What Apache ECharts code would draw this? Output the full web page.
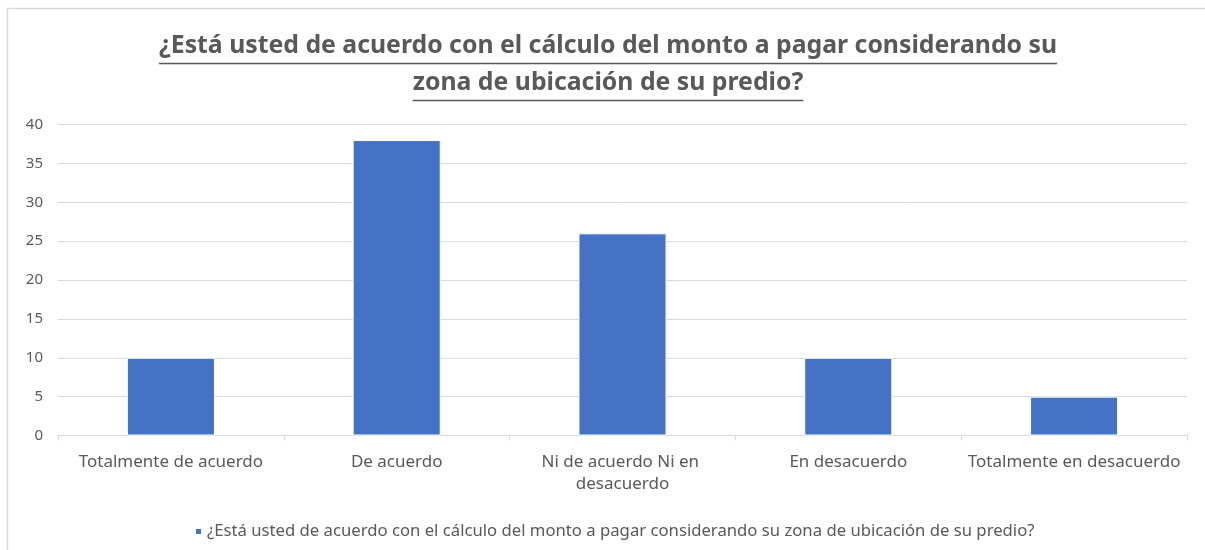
<!DOCTYPE html>
<html>
<head>
<meta charset="utf-8">
<script src="https://cdn.jsdelivr.net/npm/echarts@6/dist/echarts.min.js"></script>
<style>
  html, body { margin: 0; padding: 0; background: #fff; }
  #chart { width: 1205px; height: 550px; }
</style>
</head>
<body>
<div id="chart"></div>
<script>
const titleLines = [
  '¿Está usted de acuerdo con el cálculo del monto a pagar considerando su',
  'zona de ubicación de su predio?'
]
const seriesName = '¿Está usted de acuerdo con el cálculo del monto a pagar considerando su zona de ubicación de su predio?'
const categories = [
  'Totalmente de acuerdo',
  'De acuerdo',
  'Ni de acuerdo Ni en desacuerdo',
  'En desacuerdo',
  'Totalmente en desacuerdo'
]
const values = [10, 38, 26, 10, 5]
const yTicks = { min: 0, max: 40, interval: 5 }

const fontFamily = '"Noto Sans", sans-serif'
const grey = '#595959'
const titleSize = 24.8
const titleFont = 'bold ' + titleSize + 'px "Noto Sans"'
const titleTop = 27
const titleLineHeight = 37

const chart = echarts.init(document.getElementById('chart'))

// underline for the title, measured from the text itself
const measure = document.createElement('canvas').getContext('2d')
measure.font = titleFont
const underlines = titleLines.map((line, i) => {
  const w = measure.measureText(line).width
  const y = Math.round(titleTop + titleLineHeight * (i + 1) - 1) + 0.5
  return {
    type: 'line',
    silent: true,
    shape: { x1: 608 - w / 2, y1: y, x2: 608 + w / 2, y2: y },
    style: { stroke: grey, lineWidth: 1.5 }
  }
})

const option = {
  animation: false,
  title: {
    text: titleLines.join('\n'),
    left: 608,
    textAlign: 'center',
    top: titleTop,
    padding: 0,
    textStyle: {
      fontFamily,
      fontSize: titleSize,
      fontWeight: 'bold',
      color: grey,
      lineHeight: titleLineHeight
    }
  },
  graphic: [
    {
      type: 'polyline',
      silent: true,
      shape: { points: [[7.5, 550], [7.5, 8.5], [1205, 8.5]] },
      style: { stroke: '#d9d9d9', lineWidth: 1.5, fill: null }
    },
    ...underlines
  ],
  legend: {
    data: [seriesName],
    bottom: 10,
    left: 194,
    padding: 0,
    icon: 'rect',
    itemWidth: 7,
    itemHeight: 7,
    itemGap: 5,
    textStyle: { fontFamily, fontSize: 16.7, color: grey }
  },
  grid: {
    left: 58,
    right: 18,
    top: 124.5,
    bottom: 114.5,
    containLabel: false
  },
  xAxis: {
    type: 'category',
    data: categories,
    axisLine: { lineStyle: { color: '#d9d9d9', width: 1 } },
    axisTick: { show: true, length: 5, lineStyle: { color: '#d9d9d9' } },
    axisLabel: {
      margin: 16,
      fontFamily,
      fontSize: 17,
      lineHeight: 22,
      color: grey,
      width: 222,
      overflow: 'break',
      interval: 0
    }
  },
  yAxis: {
    type: 'value',
    min: yTicks.min,
    max: yTicks.max,
    interval: yTicks.interval,
    axisLine: { show: false },
    axisTick: { show: false },
    axisLabel: { margin: 15, fontFamily, fontSize: 15, color: grey },
    splitLine: { lineStyle: { color: '#d9d9d9', width: 1 } }
  },
  series: [
    {
      name: seriesName,
      type: 'bar',
      data: values,
      barWidth: '39%',
      itemStyle: {
        color: '#4472C4',
        borderColor: '#ffffff',
        borderWidth: 1
      }
    }
  ]
}

chart.setOption(option)
</script>
</body>
</html>
